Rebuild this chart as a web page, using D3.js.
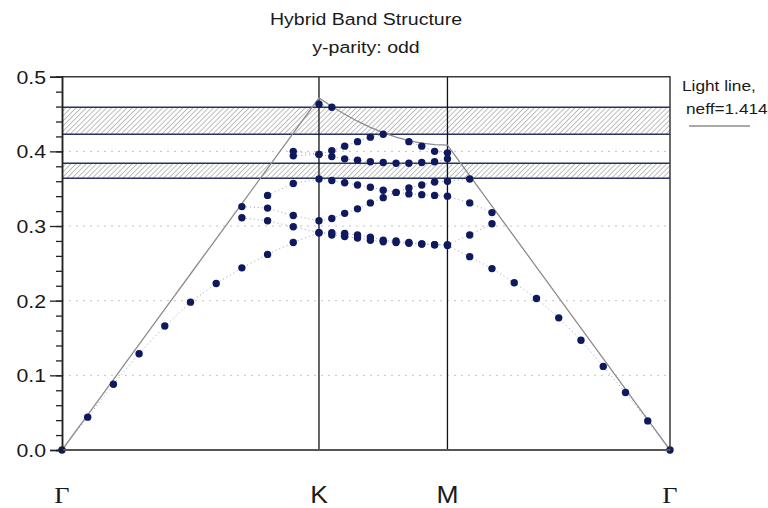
<!DOCTYPE html>
<html>
<head>
<meta charset="utf-8">
<script src="https://cdn.jsdelivr.net/npm/d3@7"></script>
<style>
  html, body { margin: 0; padding: 0; background: #ffffff; }
  svg { display: block; }
  text { font-family: "Liberation Sans", Arial, sans-serif; fill: #1a1a1a; }
</style>
</head>
<body>
<div id="chart"></div>
<script>
// ---- k-path through the hexagonal Brillouin zone (units of 2π/a) ----
const symLabels = ["Γ", "K", "M", "Γ"];
const symPoints = [[0, 0], [1 / 3, 1 / Math.sqrt(3)], [0, 1 / Math.sqrt(3)], [0, 0]];
const stepsPerSegment = 10;

// ---- light line ----
const neff = 1.414;
const legendLines = ["Light line,", "neff=1.414"];

// ---- axis ----
const yTicks = [0, 0.1, 0.2, 0.3, 0.4, 0.5];
const gridValues = [0.1, 0.2, 0.3, 0.4];

// ---- guided-mode frequencies (a/λ) per k-point, null where above the light line ----
const band1 = [0, 0.044, 0.088, 0.129, 0.166, 0.198, 0.223, 0.244, 0.262, 0.278, 0.291,
  0.288, 0.286, 0.284, 0.281, 0.279, 0.278, 0.277, 0.276, 0.275, 0.274,
  0.259, 0.243, 0.224, 0.203, 0.177, 0.147, 0.112, 0.077, 0.039, 0];
const band2 = [null, null, null, null, null, null, null, 0.311, 0.307, 0.299, 0.291,
  0.291, 0.290, 0.288, 0.285, 0.281, 0.280, 0.278, 0.276, 0.275, 0.275,
  0.288, 0.303, null, null, null, null, null, null, null, null];
const band3 = [null, null, null, null, null, null, null, 0.326, 0.324, 0.314, 0.307,
  0.310, 0.317, 0.323, 0.331, 0.338, 0.345, 0.343, 0.342, 0.341, 0.340,
  0.331, 0.318, null, null, null, null, null, null, null, null];
const band4 = [null, null, null, null, null, null, null, null, 0.341, 0.357, 0.363,
  0.361, 0.358, 0.355, 0.352, 0.348, 0.345, 0.351, 0.355, 0.359, 0.360,
  0.363, null, null, null, null, null, null, null, null, null];
const band5 = [null, null, null, null, null, null, null, null, null, 0.394, 0.396,
  0.393, 0.390, 0.388, 0.386, 0.385, 0.384, 0.384, 0.385, 0.386, 0.390,
  null, null, null, null, null, null, null, null, null, null];
const band6 = [null, null, null, null, null, null, null, null, null, 0.400, 0.396,
  0.401, 0.407, 0.413, 0.419, 0.423, null, 0.413, 0.407, 0.400, 0.398,
  null, null, null, null, null, null, null, null, null, null];
const band7 = [null, null, null, null, null, null, null, null, null, null, 0.463,
  0.459, null, null, null, null, null, null, null, null, null,
  null, null, null, null, null, null, null, null, null, null];
const bands = [band1, band2, band3, band4, band5, band6, band7];

// ---- photonic band gaps (hatched) ----
const gapBottom = [0.364, 0.423];
const gapTop = [0.384, 0.459];

// ---------------------------------------------------------------------
const W = 768, H = 508;
const margin = { top: 76.7, right: 98, bottom: 58, left: 62 };
const TSX = 1.15; // horizontal text stretch

const svg = d3.select("#chart").append("svg").attr("width", W).attr("height", H);

// k-points along the path and their cumulative distance
const kpts = [];
let dist = 0;
for (let s = 0; s < symPoints.length - 1; s++) {
  const a = symPoints[s], b = symPoints[s + 1];
  const segLen = Math.hypot(b[0] - a[0], b[1] - a[1]);
  for (let t = (s === 0 ? 0 : 1); t <= stepsPerSegment; t++) {
    const f = t / stepsPerSegment;
    kpts.push({
      kx: a[0] + (b[0] - a[0]) * f,
      ky: a[1] + (b[1] - a[1]) * f,
      d: dist + segLen * f
    });
  }
  dist += segLen;
}
const symDist = symPoints.map((p, i) => kpts[i * stepsPerSegment].d);

const x = d3.scaleLinear().domain([0, dist]).range([margin.left, W - margin.right]);
const y = d3.scaleLinear().domain([0, 0.5]).range([H - margin.bottom, margin.top]);
const x0 = x.range()[0], x1 = x.range()[1];

// hatch pattern
const defs = svg.append("defs");
defs.append("pattern")
  .attr("id", "hatch")
  .attr("patternUnits", "userSpaceOnUse")
  .attr("width", 3.6).attr("height", 3.6)
  .attr("patternTransform", "rotate(45)")
  .append("line")
  .attr("x1", 0).attr("y1", 0).attr("x2", 0).attr("y2", 3.6)
  .attr("stroke", "#6f6f6f").attr("stroke-width", 0.9);

// title
function stext(sel, tx, ty) {
  return sel.attr("transform", `translate(${tx},${ty}) scale(${TSX},1)`);
}
stext(svg.append("text"), (x0 + x1) / 2, 25)
  .attr("text-anchor", "middle").style("font-size", "17px").text("Hybrid Band Structure");
stext(svg.append("text"), (x0 + x1) / 2, 53)
  .attr("text-anchor", "middle").style("font-size", "17px").text("y-parity: odd");

// dotted grid
svg.append("g").selectAll("line").data(gridValues).join("line")
  .attr("x1", x0).attr("x2", x1)
  .attr("y1", d => y(d)).attr("y2", d => y(d))
  .attr("stroke", "#c4c4c4").attr("stroke-width", 1)
  .attr("stroke-dasharray", "2,5");

// band gaps
const gaps = svg.append("g");
gapBottom.forEach((lo, i) => {
  const hi = gapTop[i];
  gaps.append("rect")
    .attr("x", x0).attr("width", x1 - x0)
    .attr("y", y(hi)).attr("height", y(lo) - y(hi))
    .attr("fill", "url(#hatch)");
  [lo, hi].forEach(v => gaps.append("line")
    .attr("x1", x0).attr("x2", x1).attr("y1", y(v)).attr("y2", y(v))
    .attr("stroke", "#27345e").attr("stroke-width", 1.4));
});

// symmetry-point verticals
svg.append("g").selectAll("line").data(symDist.slice(1, -1)).join("line")
  .attr("x1", d => x(d)).attr("x2", d => x(d))
  .attr("y1", y(0)).attr("y2", y(0.5))
  .attr("stroke", "#111").attr("stroke-width", 1.3);

// light line
const light = d3.line().x(d => x(d.d)).y(d => y(Math.hypot(d.kx, d.ky) / neff));
svg.append("path").datum(kpts).attr("d", light)
  .attr("fill", "none").attr("stroke", "#8c8c8c").attr("stroke-width", 1.3);

// dotted band connectors
const bandLine = d3.line()
  .defined(d => d.v !== null)
  .x(d => x(d.d)).y(d => y(d.v));
const bandData = bands.map(b => b.map((v, i) => ({ v, d: kpts[i].d })));
svg.append("g").selectAll("path").data(bandData).join("path")
  .attr("d", bandLine)
  .attr("fill", "none").attr("stroke", "#9aa0bb").attr("stroke-width", 1)
  .attr("stroke-dasharray", "1,3");

// mode points
const pts = bandData.flat().filter(p => p.v !== null);
svg.append("g").selectAll("circle").data(pts).join("circle")
  .attr("cx", d => x(d.d)).attr("cy", d => y(d.v)).attr("r", 3.7)
  .attr("fill", "#0f1a5e");

// frame
svg.append("path")
  .attr("d", `M${x0},${y(0)}H${x1}V${y(0.5)}H${x0}`)
  .attr("fill", "none").attr("stroke", "#3a3a3a").attr("stroke-width", 1.5);
svg.append("line").attr("x1", x0).attr("x2", x1).attr("y1", y(0)).attr("y2", y(0))
  .attr("stroke", "#555").attr("stroke-width", 2);

// y axis: major and minor ticks
const minorAxis = d3.axisLeft(y).tickValues(d3.range(0, 0.5001, 0.02)).tickSize(6).tickFormat("");
const gMinor = svg.append("g").attr("transform", `translate(${x0},0)`).call(minorAxis);
const majorAxis = d3.axisLeft(y).tickValues(yTicks).tickSize(12).tickPadding(5).tickFormat(d3.format(".1f"));
const gMajor = svg.append("g").attr("transform", `translate(${x0},0)`).call(majorAxis);
[gMinor, gMajor].forEach(g => {
  g.select(".domain").attr("stroke", "#222").attr("stroke-width", 1.5);
  g.selectAll(".tick line").attr("stroke", "#222").attr("stroke-width", 1.3);
});
gMajor.selectAll(".tick text")
  .style("font-size", "18.5px").attr("fill", "#1a1a1a")
  .attr("font-family", "Liberation Sans, Arial, sans-serif")
  .attr("x", 0).attr("dy", "0.35em")
  .attr("transform", `translate(-16,0) scale(${TSX},1)`);

// symmetry-point labels
svg.append("g").selectAll("text").data(symLabels).join("text")
  .attr("text-anchor", "middle")
  .attr("transform", (d, i) => `translate(${x(symDist[i])},${H - 5}) scale(${TSX},1)`)
  .style("font-family", d => d === "Γ" ? "'Liberation Serif', 'Times New Roman', serif" : "'Liberation Sans', Arial, sans-serif")
  .style("font-size", d => d === "Γ" ? "23px" : "23px")
  .text(d => d);

// legend
const lg = svg.append("g");
stext(lg.append("text"), x1 + 12, 91).style("font-size", "15px").text(legendLines[0]);
stext(lg.append("text"), x1 + 16, 114).style("font-size", "15px").text(legendLines[1]);
lg.append("line").attr("x1", x1 + 19).attr("x2", x1 + 80).attr("y1", 126).attr("y2", 126)
  .attr("stroke", "#8c8c8c").attr("stroke-width", 1.3);
</script>
</body>
</html>
